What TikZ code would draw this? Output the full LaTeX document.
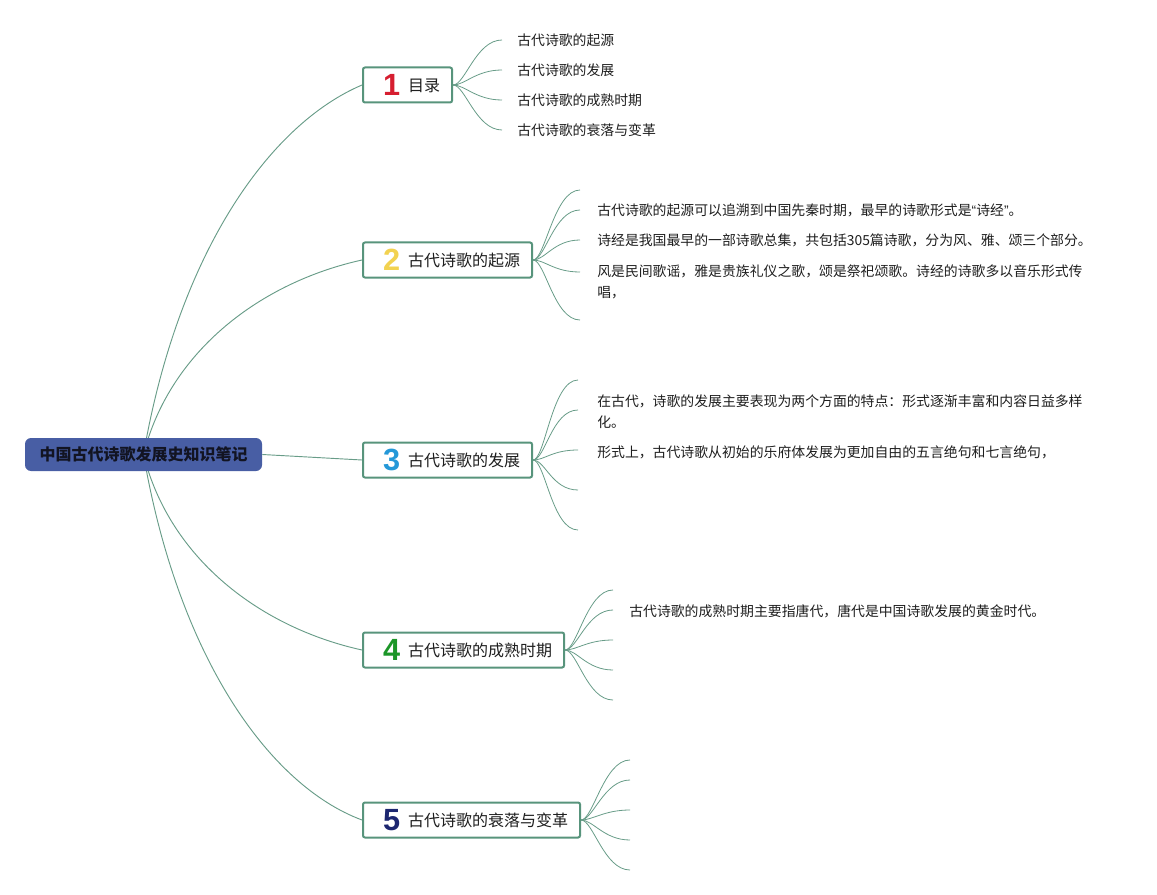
\documentclass[tikz,border=0pt]{standalone}
\usepackage{fontspec}
\setmainfont{Noto Sans CJK SC}
\newfontfamily\numfont{Liberation Sans}
\usetikzlibrary{calc,backgrounds}
\definecolor{edgecol}{RGB}{104,156,136}
\definecolor{boxgreen}{RGB}{88,148,124}
\definecolor{rootblue}{RGB}{72,94,164}
\definecolor{rootink}{RGB}{18,20,34}
\definecolor{ink}{RGB}{30,30,30}
\definecolor{numred}{RGB}{214,30,48}
\definecolor{numyellow}{RGB}{242,210,80}
\definecolor{numblue}{RGB}{36,152,216}
\definecolor{numgreen}{RGB}{28,150,40}
\definecolor{numnavy}{RGB}{28,38,112}
\newcommand\bnum[2]{\hspace*{6pt}\raisebox{-3pt}{\numfont\bfseries\fontsize{23}{23}\selectfont\color{#1}#2}\hspace{6pt}}
\newcommand\myLq{{\numfont “}}
\newcommand\myRq{{\numfont ”}}
\tikzset{
  rootbox/.style={rectangle, rounded corners=4.5pt, fill=rootblue, minimum width=177.75pt, minimum height=24.75pt, inner sep=0pt, font=\fontsize{12}{14}\selectfont\bfseries, text=rootink},
  branchbox/.style={rectangle, rounded corners=1.5pt, draw=boxgreen, line width=1.5pt, fill=white, minimum height=26.25pt, inner xsep=9pt, inner ysep=0pt, anchor=west, font=\fontsize{12}{14}\selectfont, text=ink},
  leaf/.style={anchor=base west, inner sep=0pt, font=\fontsize{10.4}{15.75}\selectfont, text=ink, align=left},
  link/.style={draw=edgecol, line width=0.7pt},
  fan/.style={draw=edgecol, line width=0.6pt}
}
\begin{document}
\begin{tikzpicture}[x=0.75pt,y=-0.75pt]
\useasboundingbox (0,0) rectangle (1157,895);
% root and branches
\node[rootbox] (root) at (143.5,454.5) {中国古代诗歌发展史知识笔记};
\node[branchbox] (b1) at (362,85) {\bnum{numred}{1}目录};
\node[branchbox] (b2) at (362,260) {\bnum{numyellow}{2}古代诗歌的起源};
\node[branchbox] (b3) at (362,460) {\bnum{numblue}{3}古代诗歌的发展};
\node[branchbox] (b4) at (362,650) {\bnum{numgreen}{4}古代诗歌的成熟时期};
\node[branchbox] (b5) at (362,820) {\bnum{numnavy}{5}古代诗歌的衰落与变革};
% leaves (base anchor of a two-line text is its last line)
\node[leaf] (t11) at (517,46) {古代诗歌的起源};
\node[leaf] (t12) at (517,76) {古代诗歌的发展};
\node[leaf] (t13) at (517,106) {古代诗歌的成熟时期};
\node[leaf] (t14) at (517,136) {古代诗歌的衰落与变革};
\node[leaf] (t21) at (597,216) {古代诗歌的起源可以追溯到中国先秦时期，最早的诗歌形式是\myLq 诗经\myRq 。};
\node[leaf] (t22) at (597,246) {诗经是我国最早的一部诗歌总集，共包括305篇诗歌，分为风、雅、颂三个部分。};
\node[leaf] (t23) at (597,297) {风是民间歌谣，雅是贵族礼仪之歌，颂是祭祀颂歌。诗经的诗歌多以音乐形式传\\唱，};
\node[leaf] (t31) at (597,427) {在古代，诗歌的发展主要表现为两个方面的特点：形式逐渐丰富和内容日益多样\\化。};
\node[leaf] (t32) at (597,457) {形式上，古代诗歌从初始的乐府体发展为更加自由的五言绝句和七言绝句，};
\node[leaf] (t41) at (629,616) {古代诗歌的成熟时期主要指唐代，唐代是中国诗歌发展的黄金时代。};
% fan end points
\foreach \y [count=\i] in {40,70,100,130} \coordinate (e1\i) at (502,\y);
\foreach \y [count=\i] in {190,210,240,272,320} \coordinate (e2\i) at (580,\y);
\foreach \y [count=\i] in {380,410,450,490,530} \coordinate (e3\i) at (578,\y);
\foreach \y [count=\i] in {590,610,640,670,700} \coordinate (e4\i) at (613,\y);
\foreach \y [count=\i] in {760,780,810,840,870} \coordinate (e5\i) at (630,\y);
\begin{pgfonlayer}{background}
\draw[link] (root.center) .. controls (178,255) and (268,125) .. (b1.west);
\draw[link] (root.center) .. controls (170,350) and (262,282) .. (b2.west);
\draw[link] (root.east) -- (b3.west);
\draw[link] (root.center) .. controls (170,560) and (262,628) .. (b4.west);
\draw[link] (root.center) .. controls (178,655) and (268,785) .. (b5.west);
\foreach \i in {1,...,4}
  \draw[fan] (b1.east) .. controls ($(b1.east)+(12,0)$) and ($(e1\i)+(-26,0)$) .. (e1\i);
\foreach \n in {2,3,4,5}
  \foreach \i in {1,...,5}
    \draw[fan] (b\n.east) .. controls ($(b\n.east)+(12,0)$) and ($(e\n\i)+(-26,0)$) .. (e\n\i);
\end{pgfonlayer}
\end{tikzpicture}
\end{document}
